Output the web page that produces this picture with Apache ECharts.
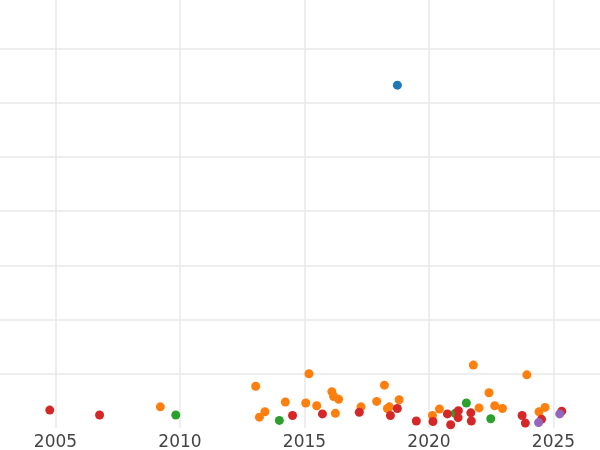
<!DOCTYPE html>
<html>
<head>
<meta charset="utf-8">
<script src="https://cdn.jsdelivr.net/npm/echarts@6/dist/echarts.min.js"></script>
<style>html,body{margin:0;padding:0;background:#fff;overflow:hidden;width:600px;height:450px}#c{position:absolute;left:-69.4px;top:-5.6px;width:746.5px;height:455.6px}</style>
</head>
<body>
<div id="c"></div>
<script>
// x = year, y = value (arbitrary units, y-axis labels are outside the frame)
const blueX = [2018.73];
const blueY = [6.32];
const orangeX = [2009.21, 2013.04, 2015.18, 2014.23, 2013.41, 2013.19, 2015.05, 2015.49, 2016.10, 2016.17, 2016.37, 2016.24, 2017.27, 2018.21, 2017.90, 2018.33, 2018.41, 2018.80, 2020.14, 2020.42, 2021.78, 2023.93, 2022.41, 2022.01, 2022.64, 2022.95, 2024.42, 2024.66];
const orangeY = [0.39, 0.77, 1.00, 0.48, 0.30, 0.20, 0.46, 0.41, 0.67, 0.58, 0.53, 0.27, 0.39, 0.79, 0.49, 0.36, 0.39, 0.52, 0.23, 0.35, 1.16, 0.98, 0.65, 0.37, 0.41, 0.36, 0.30, 0.38];
const greenX = [2009.83, 2013.99, 2021.05, 2021.50, 2022.48];
const greenY = [0.24, 0.14, 0.27, 0.46, 0.17];
const redX = [2004.77, 2006.77, 2014.52, 2015.72, 2017.20, 2018.73, 2018.45, 2019.49, 2020.16, 2020.74, 2020.87, 2021.18, 2021.17, 2021.68, 2021.70, 2023.74, 2023.87, 2024.52, 2025.33];
const redY = [0.33, 0.24, 0.23, 0.26, 0.29, 0.36, 0.23, 0.13, 0.12, 0.26, 0.06, 0.32, 0.19, 0.28, 0.13, 0.23, 0.09, 0.16, 0.31];
const purpleX = [2024.40, 2025.25];
const purpleY = [0.10, 0.26];
const xTicks = [2000, 2005, 2010, 2015, 2020, 2025, 2030];

const zip = (xs, ys) => xs.map((x, i) => [x, ys[i]]);
const groups = [
  ['#1f77b4', blueX, blueY],
  ['#ff7f0e', orangeX, orangeY],
  ['#2ca02c', greenX, greenY],
  ['#d62728', redX, redY],
  ['#9467bd', purpleX, purpleY]
];
const chart = echarts.init(document.getElementById('c'), null, {renderer: 'canvas'});
chart.setOption({
  animation: false,
  backgroundColor: '#ffffff',
  grid: {left: 0, right: 0, top: 0, bottom: 22, containLabel: false, outerBoundsMode: 'none'},
  xAxis: {
    type: 'value', min: xTicks[0], max: xTicks[xTicks.length - 1], interval: 5,
    axisLine: {show: false}, axisTick: {show: false},
    axisLabel: {fontFamily: 'DejaVu Sans', fontSize: 17, color: '#444444', margin: 6, formatter: v => String(v)},
    splitLine: {show: true, lineStyle: {color: '#e8e8e8', width: 1.5}}
  },
  yAxis: {
    type: 'value', min: 0, max: 8, interval: 1,
    axisLine: {show: false}, axisTick: {show: false}, axisLabel: {show: false},
    splitLine: {show: true, showMinLine: false, lineStyle: {color: '#e8e8e8', width: 1.5}}
  },
  series: groups.map(g => ({
    type: 'scatter', symbol: 'circle', symbolSize: 9,
    itemStyle: {color: g[0], opacity: 1},
    data: zip(g[1], g[2])
  }))
});
</script>
</body>
</html>
